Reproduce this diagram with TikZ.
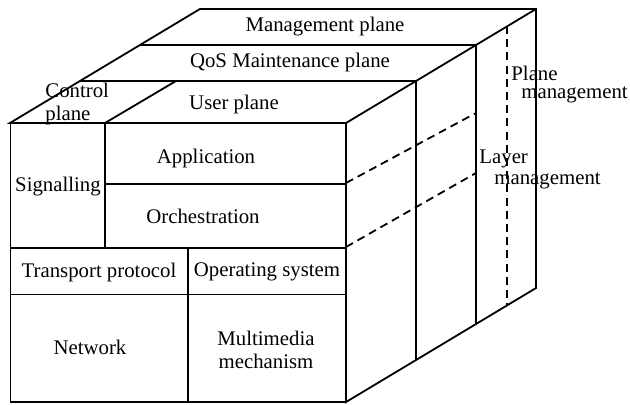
\documentclass[tikz,border=0pt]{standalone}
\usepackage{fontspec}
\setmainfont{Liberation Serif}
\begin{document}
\begin{tikzpicture}[x=0.5pt,y=-0.5pt,
  edge/.style={line width=0.9pt},
  fineedge/.style={line width=0.5pt},
  hidden/.style={line width=0.9pt,dash pattern=on 4pt off 2.6pt},
  lbl/.style={font=\fontsize{10.4}{11.5}\selectfont,inner sep=0pt},
  line join=miter]
\useasboundingbox (0,0) rectangle (630,405);

% corners of the block
\coordinate (FTL) at (10,123);
\coordinate (FTR) at (346,123);
\coordinate (FBR) at (346,402);
\coordinate (FBL) at (10,402);
\coordinate (BTL) at (200,9);
\coordinate (BTR) at (536,9);
\coordinate (BBR) at (536,288);
% plane boundaries on the top and the side
\coordinate (L1) at (80,81);   \coordinate (R1) at (416,81);  \coordinate (S1) at (416,360);
\coordinate (L2) at (140,45);  \coordinate (R2) at (476,45);  \coordinate (S2) at (476,324);
% control / user plane divider
\coordinate (CF) at (105,123); \coordinate (CB) at (176,81);
% front layer boundaries
\coordinate (SigB) at (105,248);
\coordinate (AppL) at (105,184); \coordinate (AppR) at (346,184);
\coordinate (MidL) at (10,248);  \coordinate (MidR) at (346,248);
\coordinate (OsL) at (10,294);   \coordinate (OsR) at (346,294);
\coordinate (ColT) at (188,248); \coordinate (ColB) at (188,402);
% hidden lines
\coordinate (HA1) at (346,183); \coordinate (HA2) at (476,113);
\coordinate (HB1) at (346,247); \coordinate (HB2) at (476,173);
\coordinate (HV1) at (507,26);  \coordinate (HV2) at (507,305);

% outer block
\draw[edge] (FTL) -- (BTL) -- (BTR) -- (BBR) -- (FBR) -- (FTR) -- cycle;
\draw[edge] (FTR) -- (BTR);
\draw[fineedge] (FTL) -- (FBL);
\draw[edge] (FBL) -- (FBR);
% planes
\draw[edge] (L1) -- (R1) -- (S1);
\draw[edge] (L2) -- (R2) -- (S2);
\draw[edge] (CF) -- (CB);
% layers on the front
\draw[edge] (CF) -- (SigB);
\draw[edge] (AppL) -- (AppR);
\draw[edge] (MidL) -- (MidR);
\draw[fineedge] (OsL) -- (OsR);
\draw[edge] (ColT) -- (ColB);
% hidden lines
\draw[hidden] (HA1) -- (HA2);
\draw[hidden] (HB1) -- (HB2);
\draw[hidden] (HV1) -- (HV2);

% labels
\node[lbl] (mgmt) at (325,27) {Management plane};
\node[lbl] (qos) at (290,63) {QoS Maintenance plane};
\node[lbl] (user) at (234,105) {User plane};
\node[lbl,anchor=west,align=left] (ctrl) at (45,104) {Control\\plane};
\node[lbl] (app) at (206,158) {Application};
\node[lbl] (sig) at (58,187) {Signalling};
\node[lbl] (orch) at (203,216) {Orchestration};
\node[lbl] (tp) at (99,272) {Transport protocol};
\node[lbl] (os) at (267,272) {Operating system};
\node[lbl] (net) at (90,347) {Network};
\node[lbl,align=center] (mm) at (266,350) {Multimedia\\mechanism};
\node[lbl,anchor=west] (pm1) at (511,73) {Plane};
\node[lbl,anchor=west] (pm2) at (521,95) {management};
\node[lbl,anchor=west] (lm1) at (479,159) {Layer};
\node[lbl,anchor=west] (lm2) at (494,181) {management};
\end{tikzpicture}
\end{document}
